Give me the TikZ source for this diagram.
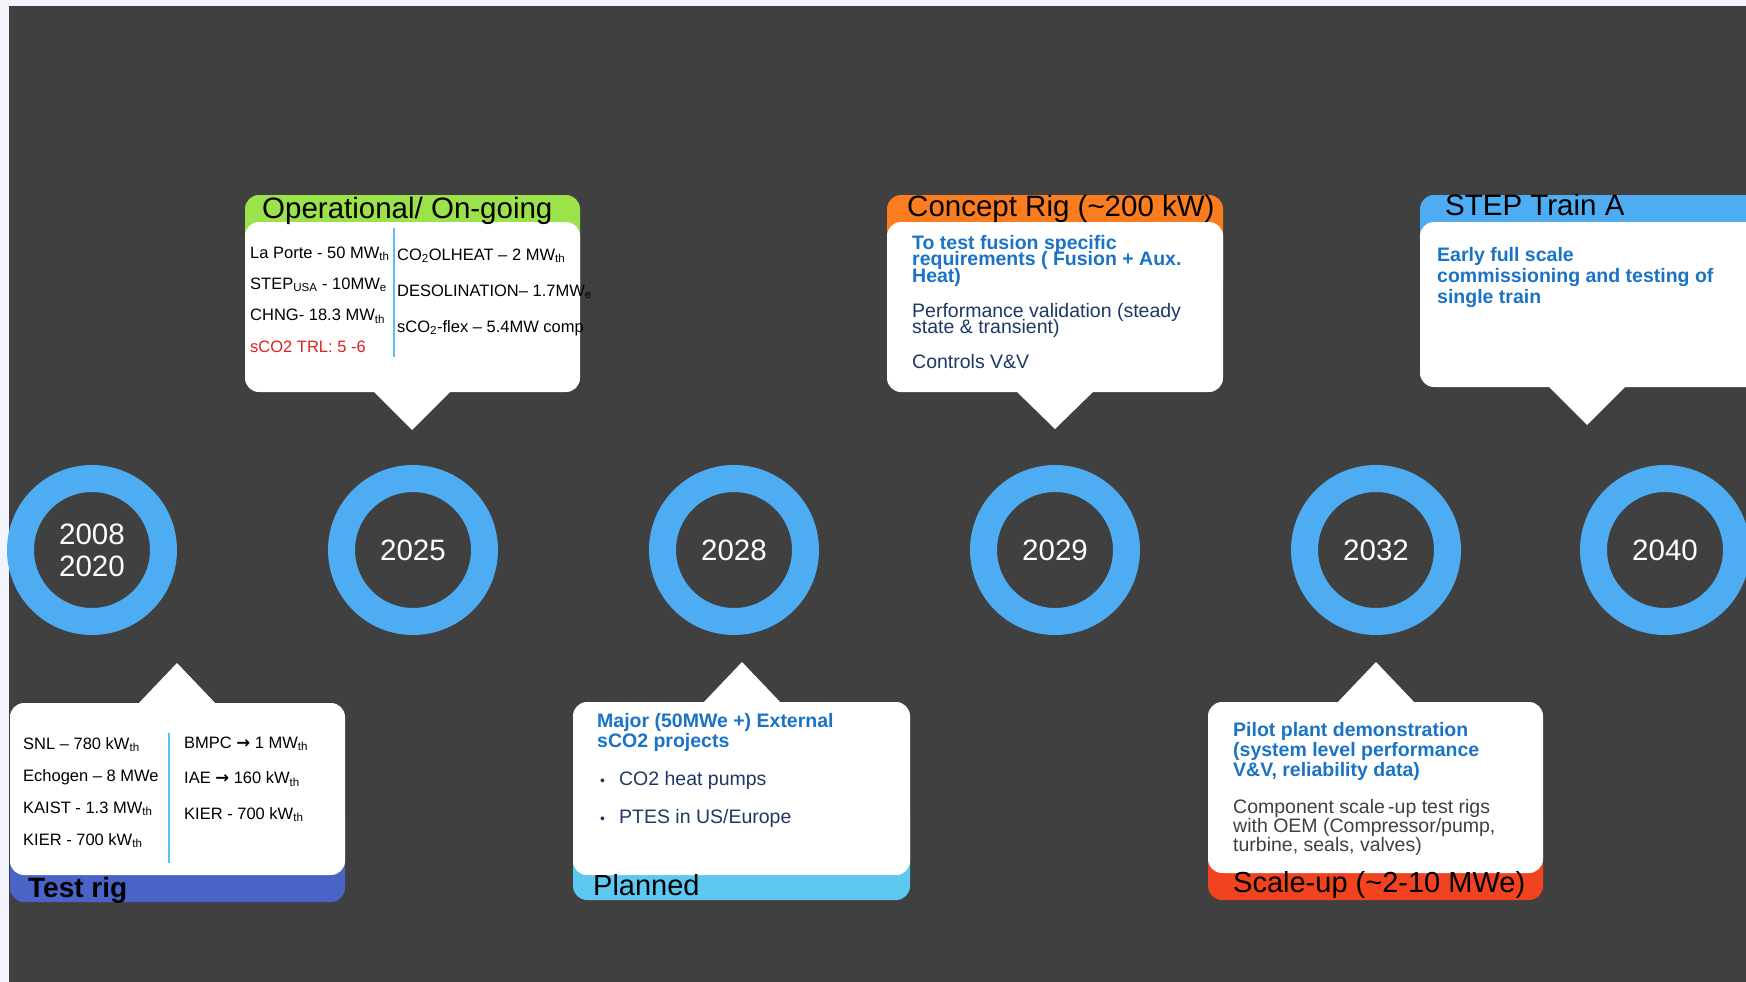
\documentclass[tikz,border=0pt]{standalone}
\usepackage{fontspec}
\setmainfont{Liberation Sans}
\newfontfamily\arrowfont{DejaVu Sans}
\usepackage{tikz}
\usetikzlibrary{calc, positioning}
\pgfdeclarelayer{background}
\pgfsetlayers{background,main}
\definecolor{pagebg}{HTML}{F3F3FB}
\definecolor{slate}{HTML}{404040}
\definecolor{track}{HTML}{595959}
\definecolor{ringblue}{HTML}{4EACF2}
\definecolor{lime}{HTML}{9CE24B}
\definecolor{tangerine}{HTML}{FB7D1F}
\definecolor{royal}{HTML}{4A63C6}
\definecolor{sky}{HTML}{5DC8F0}
\definecolor{vermil}{HTML}{F1431F}
\definecolor{titleblue}{HTML}{1A73C4}
\definecolor{navy}{HTML}{1F3864}
\definecolor{divblue}{HTML}{5BC0F0}
\definecolor{alertred}{HTML}{E0201E}
\newcommand{\rarr}{{\arrowfont\bfseries →}}
\newcommand{\bulletdot}{{\fontsize{14}{16}\selectfont •}\hspace{14pt}}
\newcommand{\tightlines}{\lineskiplimit=-100pt\lineskip=0pt}
\tikzstyle{yearring}  = [circle, draw=ringblue, line width=27pt, fill=slate, minimum size=143pt, inner sep=0pt, outer sep=0pt, text=white, align=center, font=\fontsize{29.5}{32}\selectfont]
\tikzstyle{band}      = [rounded corners=14pt]
\tikzstyle{card}      = [fill=white, rounded corners=14pt]
\tikzstyle{tip}       = [fill=white]
\tikzstyle{divider}   = [draw=divblue, line width=2.5pt]
\tikzstyle{hdrtxt}    = [anchor=base west, inner sep=0pt, text=black, font=\fontsize{29.5}{32}\selectfont]
\tikzstyle{foottxt}   = [anchor=base west, inner sep=0pt, text=black, font=\fontsize{29}{32}\selectfont]
\tikzstyle{coltxt}    = [anchor=base west, inner sep=0pt, align=left, text=black]
\tikzstyle{leadtxt}   = [anchor=base west, inner sep=0pt, align=left, text=titleblue, font=\bfseries\fontsize{19.5}{20}\selectfont\tightlines]
\tikzstyle{plaintxt}  = [anchor=base west, inner sep=0pt, align=left, text=navy, font=\fontsize{19.5}{16.5}\selectfont\tightlines]
\tikzstyle{barline}   = [draw=track, line width=26pt]

\begin{document}
\begin{tikzpicture}[x=1pt, y=-1pt]
    \clip (0,0) rectangle (1746,982);
    \fill[pagebg] (0,0) rectangle (1746,982);
    \fill[slate] (9,6) rectangle (1746,982);

    \node (y0820) [yearring] at (92,550)             {2008\\2020};
    \node (y2025) [yearring, right=178pt of y0820]  {2025};
    \node (y2028) [yearring, right=178pt of y2025]  {2028};
    \node (y2029) [yearring, right=178pt of y2028]  {2029};
    \node (y2032) [yearring, right=178pt of y2029]  {2032};
    \node (y2040) [yearring, right=146pt of y2032]  {2040};
    \begin{pgfonlayer}{background}
      \draw [barline] (y0820.center) -- (y2040.center);
    \end{pgfonlayer}

    \fill[band, lime] (245,195) rectangle (580,300);
    \fill[card] (245,222) rectangle (580,392);
    \fill[tip] (372,390) -- (412,430) -- (452,390) -- cycle;
    \node (opHead) [hdrtxt] at (262,218) {Operational/ On-going};
    \node (opLeft) [coltxt, font=\fontsize{16.5}{31.3}\selectfont] at (250,352)
      {La Porte - 50 MW\textsubscript{th}\\STEP\textsubscript{USA} - 10MW\textsubscript{e}\\CHNG- 18.3 MW\textsubscript{th}\\{\color{alertred}sCO2 TRL: 5 -6}};
    \node (opRight) [coltxt, font=\fontsize{16.5}{36}\selectfont] at (397,332)
      {CO\textsubscript{2}OLHEAT -- 2 MW\textsubscript{th}\\DESOLINATION-- 1.7MW\textsubscript{e}\\sCO\textsubscript{2}-flex -- 5.4MW comp};
    \draw [divider] (394,228) -- (394,357);

    \fill[band, tangerine] (887,195) rectangle (1223,300);
    \fill[card] (887,222) rectangle (1223,392);
    \fill[tip] (1015,390) -- (1055,429) -- (1095,390) -- cycle;
    \node (crHead) [hdrtxt] at (907,216) {Concept Rig (\textasciitilde200 kW)};
    \node (crLead) [leadtxt, font=\bfseries\fontsize{19.5}{16.5}\selectfont\tightlines] at (912,282)
      {To test fusion specific\\requirements ( Fusion + Aux.\\Heat)};
    \node (crPerf) [plaintxt] at (912,333.5) {Performance validation (steady\\state \& transient)};
    \node (crCtrl) [plaintxt] at (912,368) {Controls V\&V};

    \fill[band, ringblue] (1420,195) rectangle (1770,300);
    \fill[card] (1420,222) rectangle (1770,387);
    \fill[tip] (1547,385) -- (1587,425) -- (1627,385) -- cycle;
    \node (stHead) [hdrtxt] at (1445,215) {STEP Train A};
    \node (stLead) [leadtxt, font=\bfseries\fontsize{19.5}{21}\selectfont\tightlines] at (1437,303)
      {Early full scale\\commissioning and testing of\\single train};

    \fill[band, royal] (10,800) rectangle (345,902);
    \fill[card] (10,703) rectangle (345,875);
    \fill[tip] (137,705) -- (177,663) -- (217,705) -- cycle;
    \node (trLeft) [coltxt, font=\fontsize{16.5}{32}\selectfont] at (23,845)
      {SNL -- 780 kW\textsubscript{th}\\Echogen -- 8 MWe\\KAIST - 1.3 MW\textsubscript{th}\\KIER - 700 kW\textsubscript{th}};
    \node (trRight) [coltxt, font=\fontsize{16.5}{35.5}\selectfont] at (184,819)
      {BMPC \rarr{} 1 MW\textsubscript{th}\\IAE \rarr{} 160 kW\textsubscript{th}\\KIER - 700 kW\textsubscript{th}};
    \draw [divider] (169,733) -- (169,863);
    \node (trFoot) [foottxt, font=\bfseries\fontsize{28}{32}\selectfont] at (28,897) {Test rig};

    \fill[band, sky] (573,800) rectangle (910,900);
    \fill[card] (573,702) rectangle (910,875);
    \fill[tip] (702,704) -- (742,662) -- (782,704) -- cycle;
    \node (plLead) [leadtxt] at (597,747) {Major (50MWe +) External\\sCO2 projects};
    \node (plPump) [plaintxt] at (600,785) {\bulletdot CO2 heat pumps};
    \node (plPtes) [plaintxt] at (600,823) {\bulletdot PTES in US/Europe};
    \node (plFoot) [foottxt] at (593,895) {Planned};

    \fill[band, vermil] (1208,800) rectangle (1543,900);
    \fill[card] (1208,702) rectangle (1543,873);
    \fill[tip] (1336,704) -- (1376,662) -- (1416,704) -- cycle;
    \node (suLead) [leadtxt] at (1233,776)
      {Pilot plant demonstration\\(system level performance\\V\&V, reliability data)};
    \node (suComp) [plaintxt, text=slate, font=\fontsize{19.5}{19}\selectfont\tightlines] at (1233,851)
      {Component scale\,-up test rigs\\with OEM (Compressor/pump,\\turbine, seals, valves)};
    \node (suFoot) [foottxt] at (1233,892) {Scale-up (\textasciitilde2-10 MWe)};
  \end{tikzpicture}
\end{document}
